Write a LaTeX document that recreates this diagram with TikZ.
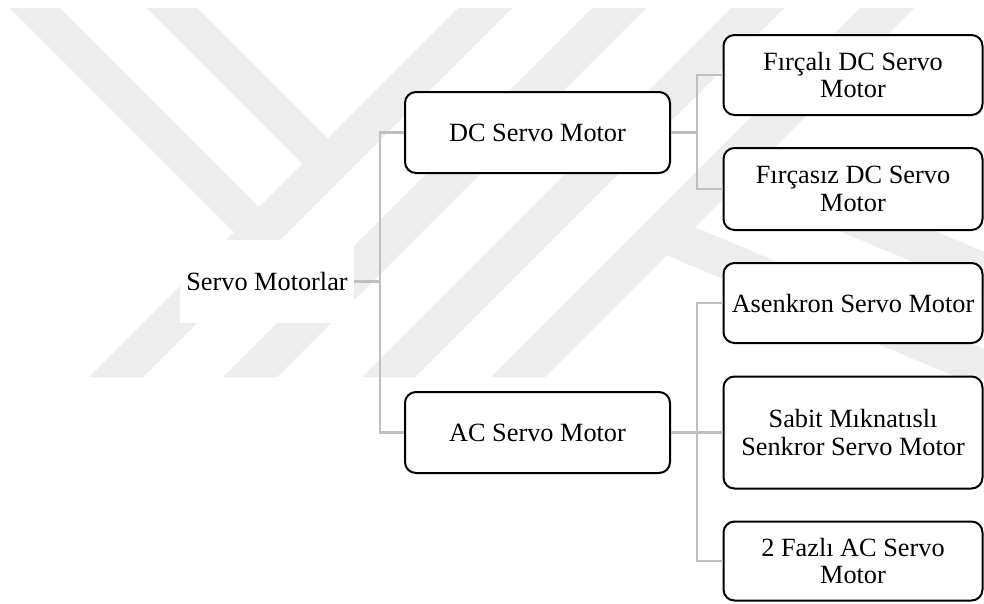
\documentclass[tikz,border=0pt]{standalone}
\usepackage{fontspec}
\setmainfont{Liberation Serif}
\begin{document}
\begin{tikzpicture}[x=1pt,y=-1pt,
  box/.style={draw=black, line width=2pt, rounded corners=11pt, fill=white,
    align=center, inner sep=0pt, font=\fontsize{26.3}{27.5}\selectfont},
  rootbox/.style={fill=white, inner sep=0pt, align=center,
    font=\fontsize{26.3}{27.5}\selectfont},
  conn/.style={draw={rgb,255:red,191;green,191;blue,191}, line width=2.4pt},
  wm/.style={fill={rgb,255:red,237;green,237;blue,237}}]
\useasboundingbox[fill=white] (0,0) rectangle (984,603);
% faint watermark
\begin{scope}
\clip (0,8) rectangle (984,377);
\fill[wm] (458,8)--(512,8)--(143,377)--(89,377)--cycle;
\fill[wm] (592,8)--(646,8)--(277,377)--(223,377)--cycle;
\fill[wm] (731,8)--(784,8)--(415,377)--(362,377)--cycle;
\fill[wm] (860,8)--(914,8)--(545,377)--(491,377)--cycle;
\fill[wm] (10,8)--(60,8)--(272.5,220.5)--(247.5,245.5)--cycle;
\fill[wm] (147,8)--(197,8)--(341,152)--(316,177)--cycle;
\fill[wm] (715,179)--(743.2,150.8)--(984,251.6)--(984,291.6)--cycle;
\fill[wm] (647,247)--(675.1,218.9)--(984,348.6)--(984,388.6)--cycle;
\end{scope}
% nodes
\node[rootbox, minimum width=174pt, minimum height=83pt] (root) at (267,281.5) {Servo Motorlar};
\node[box, minimum width=265pt, minimum height=81pt] (dc) at (537.5,132.5) {DC Servo Motor};
\node[box, minimum width=265pt, minimum height=81pt] (ac) at (537.5,432.5) {AC Servo Motor};
\node[box, minimum width=259pt, minimum height=80pt] (f1) at (853,75) {Fırçalı DC Servo\\Motor};
\node[box, minimum width=259pt, minimum height=82pt] (f2) at (853,189) {Fırçasız DC Servo\\Motor};
\node[box, minimum width=259pt, minimum height=80pt] (as) at (853,303) {Asenkron Servo Motor};
\node[box, minimum width=259pt, minimum height=112pt] (sb) at (853,432.5) {Sabit Mıknatıslı\\Senkror Servo Motor};
\node[box, minimum width=259pt, minimum height=79pt] (fz) at (853,561) {2 Fazlı AC Servo\\Motor};
% connectors
\coordinate (j1) at (380,281.5);
\coordinate (j2) at (697,132.5);
\coordinate (j3) at (697,432.5);
\draw[conn] (root.east) -- (j1);
\draw[conn] (dc.west) -- (dc.west -| j1) -- (ac.west -| j1) -- (ac.west);
\draw[conn] (dc.east) -- (j2);
\draw[conn] (f1.west) -- (f1.west -| j2) -- (f2.west -| j2) -- (f2.west);
\draw[conn] (ac.east) -- (j3);
\draw[conn] (as.west) -- (as.west -| j3) -- (fz.west -| j3) -- (fz.west);
\draw[conn] (j3) -- (sb.west);
\end{tikzpicture}
\end{document}
